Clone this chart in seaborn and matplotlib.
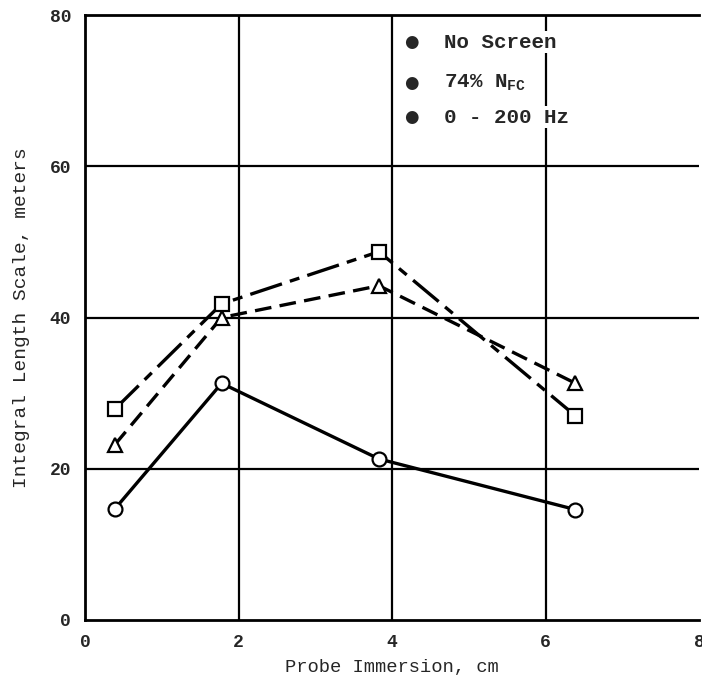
import matplotlib
matplotlib.use("Agg")
import matplotlib.pyplot as plt
import pandas as pd
import seaborn as sns

# values
immersion_cm = [0.39, 1.78, 3.83, 6.39]
no_screen = [14.7, 31.3, 21.3, 14.6]
nfc_74 = [27.9, 41.8, 48.7, 27.0]
band_0_200 = [23.2, 40.0, 44.2, 31.3]

series_names = ["No Screen", "74% N$_{\\mathregular{FC}}$", "0 - 200 Hz"]
x_ticks = [0, 2, 4, 6, 8]
y_ticks = [0, 20, 40, 60, 80]

df = pd.concat([
    pd.DataFrame({"x": immersion_cm, "y": vals, "series": name})
    for name, vals in zip(["circle", "square", "triangle"], [no_screen, nfc_74, band_0_200])
])

sns.set_style("white")
plt.rcParams["font.family"] = ["Liberation Mono", "DejaVu Sans"]
plt.rcParams["mathtext.default"] = "regular"

fig = plt.figure(figsize=(7.02, 6.87), dpi=100)
ax = fig.add_axes([85 / 702, 1 - 620 / 687, 614 / 702, 605 / 687])

for v in x_ticks[1:-1]:
    ax.axvline(v, color="black", lw=1.6, zorder=0)
for v in y_ticks[1:-1]:
    ax.axhline(v, color="black", lw=1.6, zorder=0)

sns.lineplot(
    data=df, x="x", y="y", style="series", ax=ax, color="black",
    markers={"circle": "o", "square": "s", "triangle": "^"},
    dashes={"circle": "", "square": (10, 2.5, 3, 2.5), "triangle": (5, 2.5)},
    markerfacecolor="white", markeredgecolor="black", markeredgewidth=1.6,
    markersize=10, linewidth=2.4, legend=False, zorder=3,
)

ax.set_xlim(0, 8)
ax.set_ylim(0, 80)
ax.set_xticks(x_ticks)
ax.set_yticks(y_ticks)
ax.tick_params(length=0, labelsize=13, pad=10)
for lbl in ax.get_xticklabels() + ax.get_yticklabels():
    lbl.set_fontweight("bold")
ax.set_xlabel("Probe Immersion, cm", fontsize=13.5, labelpad=6)
ax.set_ylabel("Integral Length Scale, meters", fontsize=14, labelpad=14)
for side in ["left", "bottom", "top"]:
    ax.spines[side].set_linewidth(2)
    ax.spines[side].set_color("black")
ax.spines["right"].set_visible(False)

# legend drawn as bulleted text, like the reference
leg_y = [0.955, 0.888, 0.831]
for yy, name in zip(leg_y, series_names):
    ax.text(0.532, yy, "\u25cf", transform=ax.transAxes, ha="center", va="center",
            fontsize=12, family=["DejaVu Sans"])
    ax.text(0.585, yy, name, transform=ax.transAxes, ha="left", va="center",
            fontsize=15, fontweight="bold",
            bbox=dict(facecolor="white", edgecolor="none", pad=1))

fig.savefig("out.png", dpi=100)
